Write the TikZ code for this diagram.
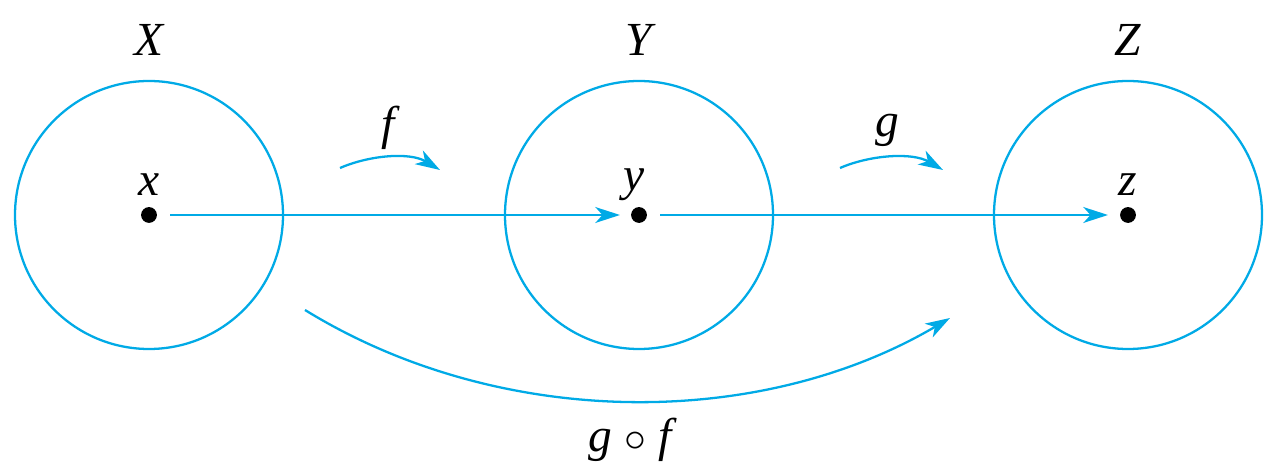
\documentclass[tikz,border=0pt]{standalone}
\usepackage{fontspec}
\setmainfont{Liberation Serif}
\usetikzlibrary{arrows.meta}
\begin{document}
\begin{tikzpicture}[x=0.02cm,y=-0.02cm,
  cy/.style={draw=cyanc,line width=1.3pt},
  arr/.style={cy,-{Stealth[length=14pt,width=9pt,inset=4pt]}},
  lbl/.style={font=\fontsize{27}{32}\selectfont\itshape},
  dot/.style={circle,fill=black,inner sep=0pt,minimum size=9pt}]
\definecolor{cyanc}{RGB}{0,170,230}
\useasboundingbox (0,0) rectangle (1279,472);
\node[cy,circle,minimum size=268*0.02cm,inner sep=0pt] (cX) at (149,215) {};
\node[cy,circle,minimum size=268*0.02cm,inner sep=0pt] (cY) at (639,215) {};
\node[cy,circle,minimum size=268*0.02cm,inner sep=0pt] (cZ) at (1128,215) {};
\node[lbl] (LX) at (149,40) {X};
\node[lbl] (LY) at (639,40) {Y};
\node[lbl] (LZ) at (1128,40) {Z};
\node[dot] (x) at (149,215) {};
\node[dot] (y) at (639,215) {};
\node[dot] (z) at (1128,215) {};
\node[lbl] (lx) at (149,185) {x};
\node[lbl] (ly) at (634,185) {y};
\node[lbl] (lz) at (1128,185) {z};
\coordinate (a1) at (170,215); \coordinate (a2) at (620,215);
\coordinate (b1) at (660,215); \coordinate (b2) at (1108,215);
\draw[arr] (a1) -- (a2);
\draw[arr] (b1) -- (b2);
\coordinate (f1) at (340,168); \coordinate (f2) at (440,170);
\draw[arr] (f1) .. controls (370,155) and (410,152) .. (f2);
\node[lbl] (lf) at (388,128) {f};
\coordinate (g1) at (840,168); \coordinate (g2) at (943,170);
\draw[arr] (g1) .. controls (870,155) and (912,152) .. (g2);
\node[lbl] (lg) at (887,130) {g};
\coordinate (h1) at (305,310); \coordinate (h2) at (950,318);
\draw[arr] (h1) .. controls (500,430) and (760,430) .. (h2);
\node[lbl] (lgf) at (630,440) {g {\upshape$\circ$} f};
\end{tikzpicture}
\end{document}
